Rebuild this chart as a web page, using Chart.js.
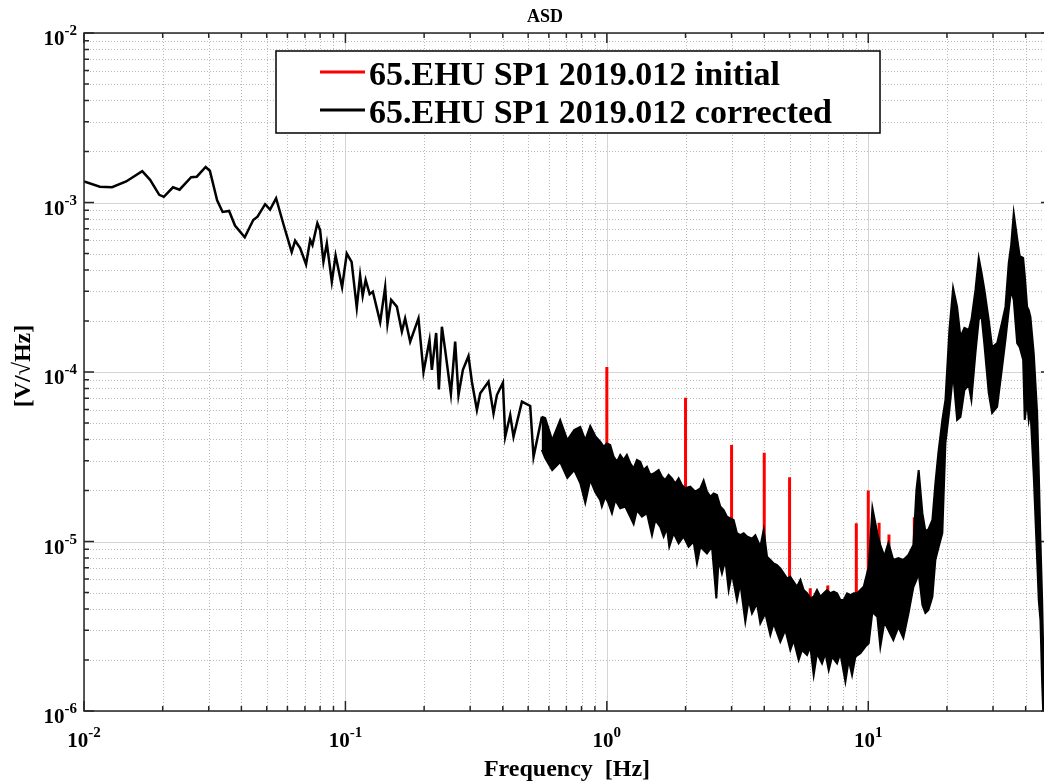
<!DOCTYPE html>
<html>
<head>
<meta charset="utf-8">
<title>ASD</title>
<script src="https://cdn.jsdelivr.net/npm/chart.js@4.4.0/dist/chart.umd.min.js"></script>
<style>
    html, body { margin: 0; padding: 0; background: #fff; overflow: hidden; }
    canvas { display: block; }
</style>
</head>
<body>
<canvas id="asdplot" width="1056" height="782"></canvas>
<script>
// series names
var seriesNames = ["65.EHU SP1 2019.012 initial", "65.EHU SP1 2019.012 corrected"];

// corrected ASD, low frequency part (single trace) [Hz], [V/sqrt(Hz)]
var lowFreq = [
    0.01, 0.0115, 0.0128, 0.0145, 0.0167, 0.0179, 0.0194, 0.0202, 0.0219, 0.0232,
    0.0257, 0.027, 0.0292, 0.0303, 0.0323, 0.0339, 0.0359, 0.0378, 0.0412, 0.0444,
    0.0461, 0.0493, 0.0515, 0.0543, 0.0579, 0.0623, 0.0642, 0.0671, 0.0707, 0.0733,
    0.0748, 0.0781, 0.08, 0.0824, 0.0849, 0.0887, 0.0917, 0.0971, 0.1012, 0.1056,
    0.1105, 0.1138, 0.1164, 0.1195, 0.1238, 0.1273, 0.1358, 0.1419, 0.1448, 0.1496,
    0.1573, 0.1644, 0.1692, 0.1769, 0.1903, 0.1989, 0.2097, 0.2141, 0.2224, 0.2278,
    0.2339, 0.2407, 0.2532, 0.2629, 0.2707, 0.2814, 0.2956, 0.3046, 0.3184, 0.3278,
    0.3526, 0.3685, 0.3797, 0.4003, 0.4085, 0.4269, 0.4395, 0.4733, 0.5091, 0.5243,
    0.5643
];
var lowAsd = [
    1.33e-3, 1.24e-3, 1.23e-3, 1.33e-3, 1.53e-3, 1.36e-3, 1.11e-3, 1.08e-3, 1.23e-3, 1.19e-3,
    1.41e-3, 1.42e-3, 1.62e-3, 1.54e-3, 1.03e-3, 8.79e-4, 8.91e-4, 7.31e-4, 6.23e-4, 7.88e-4,
    8.25e-4, 9.77e-4, 9.09e-4, 1.06e-3, 7.47e-4, 5.10e-4, 5.95e-4, 5.39e-4, 4.32e-4, 6.01e-4,
    5.61e-4, 7.54e-4, 6.88e-4, 4.47e-4, 5.74e-4, 3.41e-4, 4.87e-4, 3.17e-4, 5.00e-4, 4.46e-4,
    2.40e-4, 3.71e-4, 2.81e-4, 3.49e-4, 2.88e-4, 2.98e-4, 1.97e-4, 3.16e-4, 1.92e-4, 2.66e-4,
    2.43e-4, 1.73e-4, 2.07e-4, 1.51e-4, 2.07e-4, 1.00e-4, 1.54e-4, 1.03e-4, 1.70e-4, 7.90e-5,
    1.85e-4, 1.35e-4, 7.42e-5, 1.51e-4, 7.31e-5, 1.03e-4, 1.24e-4, 8.76e-5, 5.97e-5, 7.48e-5,
    8.76e-5, 5.70e-5, 7.31e-5, 8.65e-5, 4.15e-5, 5.57e-5, 4.15e-5, 6.68e-5, 6.30e-5, 3.16e-5,
    5.45e-5
];

// corrected ASD above 0.55 Hz, upper edge of the dense trace
var topFreq = [
    0.564, 0.581, 0.618, 0.663, 0.706, 0.75, 0.791, 0.827, 0.864, 0.903,
    0.943, 0.972, 1.0, 1.03, 1.061, 1.093, 1.125, 1.159, 1.193, 1.229,
    1.266, 1.303, 1.342, 1.382, 1.423, 1.466, 1.51, 1.578, 1.624, 1.673,
    1.723, 1.774, 1.827, 1.882, 1.938, 1.995, 2.085, 2.179, 2.278, 2.345,
    2.415, 2.487, 2.562, 2.637, 2.716, 2.798, 2.881, 2.967, 3.055, 3.146,
    3.24, 3.337, 3.436, 3.591, 3.698, 3.864, 3.98, 4.1, 4.221, 4.347,
    4.476, 4.609, 4.747, 4.888, 5.033, 5.183, 5.339, 5.499, 5.662, 5.83,
    6.004, 6.183, 6.366, 6.558, 6.754, 6.954, 7.161, 7.374, 7.595, 7.82,
    8.054, 8.295, 8.544, 8.798, 9.057, 9.328, 9.605, 10.04, 10.37, 10.83,
    11.12, 11.52, 11.94, 12.47, 13.04, 13.62, 14.24, 14.88, 15.28, 15.59,
    16.11, 16.54, 16.98, 17.59, 18.06, 18.54, 19.2, 19.73, 20.43, 21.11,
    21.87, 22.52, 23.32, 24.22, 24.8, 25.7, 26.46, 27.09, 27.82, 28.89,
    29.77, 31.11, 32.51, 33.47, 34.46, 35.2, 36.01, 37.11, 37.96, 39.12,
    39.67, 40.52, 41.1, 41.72, 42.95, 44.26, 44.88, 45.56, 46.25, 46.78
];
var topAsd = [
    5.45e-5, 5.35e-5, 3.97e-5, 5.21e-5, 3.97e-5, 4.55e-5, 4.74e-5, 3.97e-5, 4.80e-5, 4.19e-5,
    3.88e-5, 3.63e-5, 3.79e-5, 3.71e-5, 3.17e-5, 2.96e-5, 3.24e-5, 3.03e-5, 3.24e-5, 2.89e-5,
    2.70e-5, 3.03e-5, 2.96e-5, 2.64e-5, 2.76e-5, 2.47e-5, 2.52e-5, 2.64e-5, 2.41e-5, 2.31e-5,
    2.47e-5, 2.36e-5, 2.20e-5, 2.36e-5, 2.15e-5, 2.06e-5, 2.11e-5, 1.97e-5, 2.06e-5, 2.29e-5,
    1.97e-5, 1.84e-5, 1.92e-5, 1.88e-5, 1.61e-5, 1.53e-5, 1.40e-5, 1.37e-5, 1.34e-5, 1.12e-5,
    1.09e-5, 1.12e-5, 1.07e-5, 1.04e-5, 1.09e-5, 9.32e-6, 1.17e-5, 8.14e-6, 7.78e-6, 7.43e-6,
    7.27e-6, 6.95e-6, 6.49e-6, 6.06e-6, 6.20e-6, 5.79e-6, 5.41e-6, 5.93e-6, 5.17e-6, 4.95e-6,
    4.62e-6, 4.73e-6, 5.17e-6, 4.73e-6, 4.95e-6, 5.17e-6, 4.95e-6, 5.06e-6, 4.95e-6, 4.52e-6,
    4.52e-6, 4.95e-6, 4.83e-6, 4.95e-6, 4.95e-6, 5.17e-6, 5.41e-6, 7.10e-6, 1.58e-5, 1.12e-5,
    9.54e-6, 8.21e-6, 9.80e-6, 7.78e-6, 7.99e-6, 7.78e-6, 8.32e-6, 9.54e-6, 2.01e-5, 2.64e-5,
    1.47e-5, 1.15e-5, 1.18e-5, 1.34e-5, 2.21e-5, 3.33e-5, 5.21e-5, 6.84e-5, 1.77e-4, 3.13e-4,
    2.42e-4, 1.61e-4, 1.82e-4, 1.77e-4, 2.03e-4, 3.05e-4, 4.71e-4, 3.89e-4, 3.05e-4, 2.03e-4,
    1.40e-4, 1.48e-4, 1.97e-4, 2.42e-4, 4.40e-4, 5.61e-4, 8.67e-4, 6.17e-4, 4.83e-4, 4.71e-4,
    3.74e-4, 2.42e-4, 2.32e-4, 2.11e-4, 1.29e-4, 5.73e-5, 2.64e-5, 1.02e-5, 4.52e-6, 2.00e-6
];

// corrected ASD above 0.55 Hz, lower edge of the dense trace
var bottomFreq = [
    0.564, 0.581, 0.618, 0.663, 0.706, 0.75, 0.791, 0.827, 0.864, 0.903,
    0.943, 0.957, 0.986, 1.015, 1.046, 1.077, 1.125, 1.176, 1.229, 1.266,
    1.303, 1.362, 1.423, 1.488, 1.532, 1.601, 1.649, 1.698, 1.733, 1.8,
    1.882, 1.966, 2.055, 2.147, 2.212, 2.278, 2.415, 2.524, 2.623, 2.677,
    2.756, 2.839, 2.924, 3.01, 3.146, 3.24, 3.386, 3.487, 3.591, 3.752,
    3.864, 4.038, 4.221, 4.347, 4.609, 4.816, 5.033, 5.183, 5.417, 5.578,
    5.83, 6.004, 6.183, 6.366, 6.655, 6.854, 7.058, 7.268, 7.595, 7.82,
    8.175, 8.418, 8.668, 8.926, 9.328, 9.748, 10.04, 10.37, 10.83, 11.12,
    11.52, 11.94, 12.47, 13.04, 13.62, 14.24, 14.88, 15.28, 15.59, 16.11,
    16.54, 16.98, 17.59, 18.06, 18.54, 19.2, 19.73, 20.43, 21.11, 21.87,
    22.52, 23.32, 24.22, 24.8, 25.7, 26.46, 27.09, 27.82, 28.89, 29.77,
    31.11, 32.51, 33.47, 34.46, 35.2, 36.01, 37.11, 37.96, 39.12, 39.67,
    40.52, 41.1, 41.72, 42.95, 44.26, 44.88, 45.56, 46.25, 46.78
];
var bottomAsd = [
    3.47e-5, 3.11e-5, 2.64e-5, 2.94e-5, 2.37e-5, 2.64e-5, 2.21e-5, 1.69e-5, 2.31e-5, 1.96e-5,
    1.76e-5, 1.61e-5, 1.84e-5, 1.68e-5, 1.47e-5, 1.76e-5, 1.57e-5, 1.61e-5, 1.40e-5, 1.27e-5,
    1.53e-5, 1.40e-5, 1.47e-5, 1.09e-5, 1.34e-5, 1.22e-5, 1.07e-5, 1.20e-5, 9.32e-6, 1.12e-5,
    9.75e-6, 1.07e-5, 9.32e-6, 9.98e-6, 7.43e-6, 9.32e-6, 8.51e-6, 9.32e-6, 4.62e-6, 7.78e-6,
    6.49e-6, 7.78e-6, 5.17e-6, 6.49e-6, 4.52e-6, 5.66e-6, 3.37e-6, 4.52e-6, 3.77e-6, 4.32e-6,
    3.29e-6, 3.77e-6, 2.81e-6, 3.29e-6, 2.56e-6, 3.01e-6, 2.29e-6, 2.62e-6, 2.00e-6, 2.29e-6,
    2.14e-6, 2.40e-6, 1.63e-6, 2.19e-6, 1.91e-6, 2.19e-6, 1.74e-6, 2.09e-6, 1.91e-6, 2.19e-6,
    1.49e-6, 2.00e-6, 1.63e-6, 2.09e-6, 2.19e-6, 2.40e-6, 2.51e-6, 3.84e-6, 3.59e-6, 2.39e-6,
    3.35e-6, 3.00e-6, 2.62e-6, 3.13e-6, 2.70e-6, 3.74e-6, 5.39e-6, 5.93e-6, 6.52e-6, 4.22e-6,
    3.79e-6, 3.94e-6, 4.71e-6, 7.78e-6, 9.16e-6, 1.12e-5, 3.81e-5, 5.97e-5, 9.86e-5, 5.21e-5,
    5.43e-5, 7.83e-5, 8.38e-5, 6.84e-5, 1.29e-4, 2.03e-4, 2.17e-4, 1.44e-4, 7.52e-5, 5.73e-5,
    6.22e-5, 1.07e-4, 1.54e-4, 2.32e-4, 3.05e-4, 2.66e-4, 1.48e-4, 1.40e-4, 1.18e-4, 5.21e-5,
    6.84e-5, 5.21e-5, 5.97e-5, 2.43e-5, 7.78e-6, 4.52e-6, 3.44e-6, 1.46e-6, 9.0e-7
];

// narrow lines present only in the initial ASD
var lineFreq = [1, 2, 3, 4, 5, 6, 7, 9, 10, 11, 12, 15, 16];
var lineTop = [1.07e-4, 7.05e-5, 3.71e-5, 3.34e-5, 2.39e-5, 5.3e-6, 5.5e-6, 1.28e-5, 2.0e-5, 1.29e-5, 1.10e-5, 1.39e-5, 1.07e-5];
var lineBase = [3.0e-5, 1.8e-5, 1.2e-5, 1.0e-5, 5.0e-6, 3.0e-6, 3.0e-6, 4.0e-6, 6.0e-6, 8.0e-6, 8.0e-6, 8.0e-6, 8.0e-6];

// axis ranges and labelled decades
var xRange = [0.01, 50];
var yRange = [1e-6, 1e-2];
var xTickExp = [-2, -1, 0, 1];
var yTickExp = [-6, -5, -4, -3, -2];

var SERIF = "'Liberation Serif', 'Times New Roman', serif";

function pairs(xs, ys) {
    return xs.map(function (x, i) { return { x: x, y: ys[i] }; });
}

function logGrid(min, max) {
    var out = [];
    for (var e = Math.floor(Math.log10(min)); e <= Math.ceil(Math.log10(max)); e++) {
        for (var m = 1; m <= 9; m++) {
            var v = m * Math.pow(10, e);
            if (v >= min * 0.999 && v <= max * 1.001) out.push({ v: v, major: m === 1 });
        }
    }
    return out;
}

function powLabel(ctx, exp, x, y, align) {
    ctx.font = "bold 21px " + SERIF;
    var wb = ctx.measureText("10").width;
    ctx.font = "bold 15px " + SERIF;
    var we = ctx.measureText(exp).width;
    var left = align === "center" ? x - (wb + we) / 2 : x - wb - we;
    ctx.textAlign = "left";
    ctx.textBaseline = "alphabetic";
    ctx.font = "bold 21px " + SERIF;
    ctx.fillText("10", left, y);
    ctx.font = "bold 15px " + SERIF;
    ctx.fillText(exp, left + wb, y - 10);
}

var axesFrame = {
    id: "axesFrame",
    beforeDatasetsDraw: function (chart) {
        var ctx = chart.ctx, a = chart.chartArea;
        var xs = chart.scales.x, ys = chart.scales.y;
        ctx.save();
        ctx.lineWidth = 1;
        logGrid(xs.min, xs.max).forEach(function (t) {
            var px = Math.round(xs.getPixelForValue(t.v)) + 0.5;
            ctx.strokeStyle = t.major ? "#d4d4d4" : "#b8b8b8";
            ctx.setLineDash(t.major ? [] : [1, 2]);
            ctx.beginPath();
            ctx.moveTo(px, a.top);
            ctx.lineTo(px, a.bottom);
            ctx.stroke();
        });
        logGrid(ys.min, ys.max).forEach(function (t) {
            var py = Math.round(ys.getPixelForValue(t.v)) + 0.5;
            ctx.strokeStyle = t.major ? "#d4d4d4" : "#b8b8b8";
            ctx.setLineDash(t.major ? [] : [1, 2]);
            ctx.beginPath();
            ctx.moveTo(a.left, py);
            ctx.lineTo(a.right, py);
            ctx.stroke();
        });
        ctx.restore();
    },
    afterDatasetsDraw: function (chart) {
        var ctx = chart.ctx, a = chart.chartArea;
        var xs = chart.scales.x, ys = chart.scales.y;
        ctx.save();
        ctx.setLineDash([]);
        ctx.strokeStyle = "#262626";
        ctx.lineWidth = 1.5;

        // inward ticks
        logGrid(xs.min, xs.max).forEach(function (t) {
            var px = xs.getPixelForValue(t.v), len = t.major ? 10 : 5;
            ctx.beginPath();
            ctx.moveTo(px, a.bottom); ctx.lineTo(px, a.bottom - len);
            ctx.moveTo(px, a.top); ctx.lineTo(px, a.top + len);
            ctx.stroke();
        });
        logGrid(ys.min, ys.max).forEach(function (t) {
            var py = ys.getPixelForValue(t.v), len = t.major ? 10 : 5;
            ctx.beginPath();
            ctx.moveTo(a.left, py); ctx.lineTo(a.left + len, py);
            ctx.moveTo(a.right, py); ctx.lineTo(a.right - len, py);
            ctx.stroke();
        });
        ctx.strokeRect(a.left, a.top, a.right - a.left, a.bottom - a.top);

        // tick labels
        ctx.fillStyle = "#000";
        xTickExp.forEach(function (e) {
            powLabel(ctx, String(e), xs.getPixelForValue(Math.pow(10, e)), a.bottom + 36, "center");
        });
        yTickExp.forEach(function (e) {
            powLabel(ctx, String(e), a.left - 7, ys.getPixelForValue(Math.pow(10, e)) + 12, "right");
        });

        // titles
        ctx.textAlign = "center";
        ctx.font = "bold 18px " + SERIF;
        ctx.fillText("ASD", 545, 22);
        ctx.font = "bold 24px " + SERIF;
        ctx.fillText("Frequency  [Hz]", 567, 776);
        ctx.save();
        ctx.translate(30, 366);
        ctx.rotate(-Math.PI / 2);
        ctx.fillText("[V/\u221AHz]", 0, 0);
        ctx.restore();

        // legend box
        ctx.fillStyle = "#fff";
        ctx.fillRect(276, 51, 604, 82);
        ctx.strokeStyle = "#000";
        ctx.lineWidth = 1.5;
        ctx.strokeRect(276, 51, 604, 82);
        ctx.lineWidth = 3;
        ctx.strokeStyle = "#ff0000";
        ctx.beginPath(); ctx.moveTo(320, 72); ctx.lineTo(365, 72); ctx.stroke();
        ctx.strokeStyle = "#000";
        ctx.beginPath(); ctx.moveTo(320, 110); ctx.lineTo(365, 110); ctx.stroke();
        ctx.fillStyle = "#000";
        ctx.textAlign = "left";
        ctx.font = "bold 34px " + SERIF;
        ctx.fillText(seriesNames[0], 369, 85);
        ctx.fillText(seriesNames[1], 369, 123);
        ctx.restore();
    }
};

function createChart() {
    // outline of the dense part: upper edge left to right, lower edge back
    var outline = pairs(topFreq, topAsd).concat(pairs(bottomFreq, bottomAsd).reverse());

    var spikes = [];
    lineFreq.forEach(function (f, i) {
        spikes.push({ x: f, y: lineBase[i] }, { x: f, y: lineTop[i] }, { x: f, y: null });
    });

    var ctx = document.getElementById("asdplot").getContext("2d");
    var myChart = new Chart(ctx, {
        type: "line",
        data: {
            datasets: [
                {
                    label: seriesNames[1],
                    data: outline,
                    borderColor: "#000",
                    backgroundColor: "#000",
                    borderWidth: 2,
                    fill: "shape"
                },
                {
                    label: seriesNames[1],
                    data: pairs(lowFreq, lowAsd),
                    borderColor: "#000",
                    borderWidth: 2.5,
                    fill: false
                },
                {
                    label: seriesNames[0],
                    data: spikes,
                    borderColor: "#ff0000",
                    borderWidth: 3,
                    fill: false,
                    spanGaps: false
                }
            ]
        },
        options: {
            responsive: false,
            animation: false,
            devicePixelRatio: 1,
            layout: { padding: { left: 84, top: 33, right: 5, bottom: 71 } },
            elements: {
                point: { radius: 0 },
                line: { tension: 0, borderJoinStyle: "miter" }
            },
            plugins: {
                legend: { display: false },
                title: { display: false },
                tooltip: { enabled: false }
            },
            scales: {
                x: { type: "logarithmic", min: xRange[0], max: xRange[1], display: false },
                y: { type: "logarithmic", min: yRange[0], max: yRange[1], display: false }
            }
        },
        plugins: [axesFrame]
    });
}

createChart();
</script>
</body>
</html>
